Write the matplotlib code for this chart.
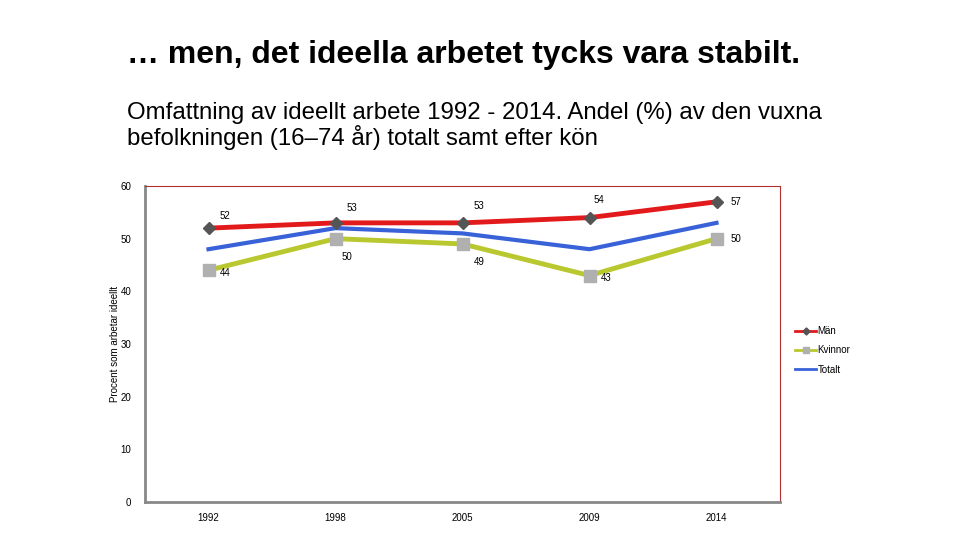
import matplotlib.pyplot as plt

years = ["1992", "1998", "2005", "2009", "2014"]
man = [52, 53, 53, 54, 57]
kvinnor = [44, 50, 49, 43, 50]
totalt = [48, 52, 51, 48, 53]

plt.rcParams['font.family'] = ['Liberation Sans', 'DejaVu Sans']

fig = plt.figure(figsize=(9.6, 5.4), dpi=100)
ax = fig.add_axes([145/960, 1-502/540, 635/960, 316/540])

x = range(len(years))
ax.plot(x, man, color="#e31a1c", lw=3.5, marker="D", ms=6, mfc="#555555", mec="#555555", label="Män", zorder=4)
ax.plot(x, kvinnor, color="#b8c82e", lw=3.5, marker="s", ms=8, mfc="#b0b0b0", mec="#b0b0b0", label="Kvinnor", zorder=3)
ax.plot(x, totalt, color="#3a62d8", lw=3, label="Totalt", zorder=2)

# data labels
man_off = [(8, 9), (8, 11), (8, 12), (3, 13), (10, 0)]
kv_off = [(8, -2), (4, -13), (8, -13), (8, -2), (10, 0)]
for i, v in enumerate(man):
    dx, dy = man_off[i]
    ax.annotate(str(v), (i, v), xytext=(dx, dy), textcoords="offset points", fontsize=7, ha="left", va="center")
for i, v in enumerate(kvinnor):
    dx, dy = kv_off[i]
    ax.annotate(str(v), (i, v), xytext=(dx, dy), textcoords="offset points", fontsize=7, ha="left", va="center")

ax.set_xlim(-0.5, 4.5)
ax.set_ylim(0, 60)
ax.set_yticks(range(0, 61, 10))
ax.set_xticks(list(x))
ax.set_xticklabels(years)
ax.tick_params(length=0, labelsize=7, pad=8)
ax.tick_params(axis="y", pad=10)
for s in ["left", "bottom"]:
    ax.spines[s].set_color("#888888")
    ax.spines[s].set_linewidth(2)
for s in ["top", "right"]:
    ax.spines[s].set_color("#b03030")
    ax.spines[s].set_linewidth(0.8)
ax.set_ylabel("Procent som arbetar ideellt", fontsize=7)
ax.yaxis.set_label_coords(-0.04, 0.5)

leg = ax.legend(loc="center left", bbox_to_anchor=(1.01, 0.48), frameon=False, fontsize=7,
                handlelength=2.2, handletextpad=0.1, labelspacing=0.95, markerscale=0.6)
for ln in leg.get_lines():
    ln.set_linewidth(2)

fig.text(127/960, 1-55/540, "… men, det ideella arbetet tycks vara stabilt.", fontsize=23, weight="bold", va="center")
fig.text(127/960, 1-126/540, "Omfattning av ideellt arbete 1992 - 2014. Andel (%) av den vuxna\nbefolkningen (16–74 år) totalt samt efter kön",
         fontsize=17.3, va="center", linespacing=1.05)

fig.savefig("out.png", dpi=100)
